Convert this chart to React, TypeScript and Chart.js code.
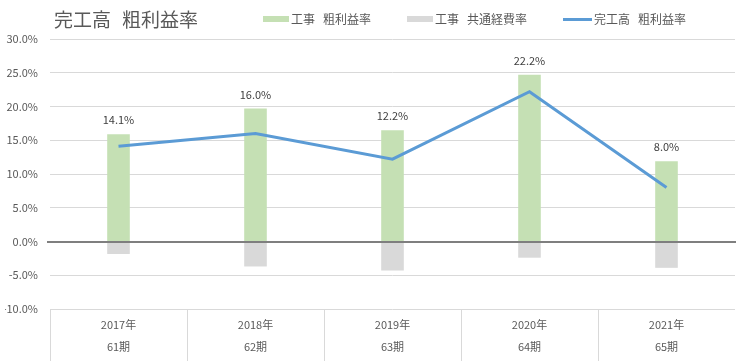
import React, { useEffect, useRef } from 'react';
import { Chart, registerables } from 'chart.js';

Chart.register(...registerables);

const years = ['2017年', '2018年', '2019年', '2020年', '2021年'];
const periods = ['61期', '62期', '63期', '64期', '65期'];
const worksGrossMargin = [15.9, 19.7, 16.5, 24.7, 11.9];
const worksCommonCost = [-1.85, -3.7, -4.3, -2.4, -3.9];
const totalGrossMargin = [14.1, 16.0, 12.2, 22.2, 8.0];
const seriesNames = ['工事 粗利益率', '工事 共通経費率', '完工高 粗利益率'];
const chartTitle = '完工高 粗利益率';
const yMin = -10;
const yMax = 30;
const yStep = 5;

const FONT = '"Noto Sans CJK JP", "Noto Sans", sans-serif';
const GREEN = '#C5E0B4';
const GRAY = '#D9D9D9';
const BLUE = '#5B9BD5';
const TEXT = '#595959';

function drawSpaced(ctx: CanvasRenderingContext2D, text: string, x: number, y: number, gap: number) {
  const parts = text.split(' ');
  let cx = x;
  parts.forEach((p, i) => {
    ctx.fillText(p, cx, y);
    cx += ctx.measureText(p).width;
    if (i < parts.length - 1) cx += gap;
  });
  return cx;
}

const decor = {
  id: 'decor',
  afterDatasetsDraw(chart: any) {
    const { ctx, chartArea, scales } = chart;
    const xs = scales.x;
    const ys = scales.y;
    ctx.save();
    // zero axis line
    const y0 = Math.round(ys.getPixelForValue(0));
    ctx.strokeStyle = '#7F7F7F';
    ctx.lineWidth = 2;
    ctx.beginPath();
    ctx.moveTo(chartArea.left - 3, y0);
    ctx.lineTo(chartArea.right + 1, y0);
    ctx.stroke();
    // category table separators
    ctx.strokeStyle = GRAY;
    ctx.lineWidth = 1;
    const n = years.length;
    const half = (xs.getPixelForValue(1) - xs.getPixelForValue(0)) / 2;
    for (let i = 0; i < n; i++) {
      const px = Math.round(xs.getPixelForValue(i) - half) + 0.5;
      ctx.beginPath();
      ctx.moveTo(px, chartArea.bottom);
      ctx.lineTo(px, chart.height);
      ctx.stroke();
    }
    // data labels above green bars
    const meta = chart.getDatasetMeta(1);
    ctx.fillStyle = '#404040';
    ctx.font = `11px ${FONT}`;
    ctx.textAlign = 'center';
    ctx.textBaseline = 'middle';
    meta.data.forEach((el: any, i: number) => {
      ctx.fillText(totalGrossMargin[i].toFixed(1) + '%', el.x, el.y - 14);
    });
    ctx.restore();
  },
  afterDraw(chart: any) {
    const { ctx } = chart;
    ctx.save();
    ctx.fillStyle = TEXT;
    ctx.textAlign = 'left';
    ctx.textBaseline = 'middle';
    ctx.font = `19px ${FONT}`;
    drawSpaced(ctx, chartTitle, 54, 20, 11);
    // legend
    ctx.font = `12px ${FONT}`;
    const items = [
      { name: seriesNames[0], color: GREEN, type: 'box' },
      { name: seriesNames[1], color: GRAY, type: 'box' },
      { name: seriesNames[2], color: BLUE, type: 'line' },
    ];
    let x = 263;
    items.forEach((it) => {
      if (it.type === 'box') {
        ctx.fillStyle = it.color;
        ctx.fillRect(x, 16, 26, 6);
        x += 26;
      } else {
        ctx.strokeStyle = it.color;
        ctx.lineWidth = 3;
        ctx.beginPath();
        ctx.moveTo(x, 19.5);
        ctx.lineTo(x + 29, 19.5);
        ctx.stroke();
        x += 29;
      }
      x += 2;
      ctx.fillStyle = TEXT;
      x = drawSpaced(ctx, it.name, x, 19, 8);
      x += 36;
    });
    ctx.restore();
  },
};

export default function App() {
  const ref = useRef<HTMLCanvasElement>(null);
  useEffect(() => {
    document.body.style.margin = '0';
    Chart.defaults.font.family = FONT;
    const chart = new Chart(ref.current as HTMLCanvasElement, {
      type: 'bar',
      data: {
        labels: years.map((y, i) => [y, periods[i]]),
        datasets: [
          {
            type: 'line',
            label: seriesNames[2],
            data: totalGrossMargin,
            borderColor: BLUE,
            backgroundColor: BLUE,
            borderWidth: 3,
            pointRadius: 0,
            tension: 0,
            order: 0,
          } as any,
          {
            type: 'bar',
            label: seriesNames[0],
            data: worksGrossMargin,
            backgroundColor: GREEN,
            barPercentage: 0.165,
            categoryPercentage: 1,
            order: 1,
          },
          {
            type: 'bar',
            label: seriesNames[1],
            data: worksCommonCost,
            backgroundColor: GRAY,
            barPercentage: 0.165,
            categoryPercentage: 1,
            order: 2,
          },
        ],
      },
      options: {
        responsive: false,
        animation: false,
        devicePixelRatio: 1,
        layout: { padding: { left: 5, right: 8, top: 39, bottom: 0 } },
        plugins: {
          legend: { display: false },
          title: { display: false },
          tooltip: { enabled: false },
        },
        scales: {
          x: {
            stacked: true,
            offset: true,
            grid: { display: false, drawTicks: false },
            border: { display: false },
            ticks: {
              color: TEXT,
              font: { size: 11, family: FONT, lineHeight: 2 },
              padding: 5,
              maxRotation: 0,
              autoSkip: false,
            },
            afterFit: (s: any) => {
              s.height = 52;
            },
          },
          y: {
            min: yMin,
            max: yMax,
            border: { display: false },
            grid: {
              drawTicks: false,
              color: (c: any) => (c.tick && c.tick.value === 0 ? 'rgba(0,0,0,0)' : GRAY),
              lineWidth: 1,
            },
            ticks: {
              stepSize: yStep,
              color: TEXT,
              padding: 12,
              font: { size: 11, family: FONT },
              callback: (v: any) => Number(v).toFixed(1) + '%',
            },
            afterFit: (s: any) => {
              s.width = 45;
            },
          },
        },
      },
      plugins: [decor],
    });
    return () => chart.destroy();
  }, []);
  return (
    <div style={{ width: 743, height: 361 }}>
      <canvas ref={ref} width={743} height={361} style={{ display: 'block' }} />
    </div>
  );
}
